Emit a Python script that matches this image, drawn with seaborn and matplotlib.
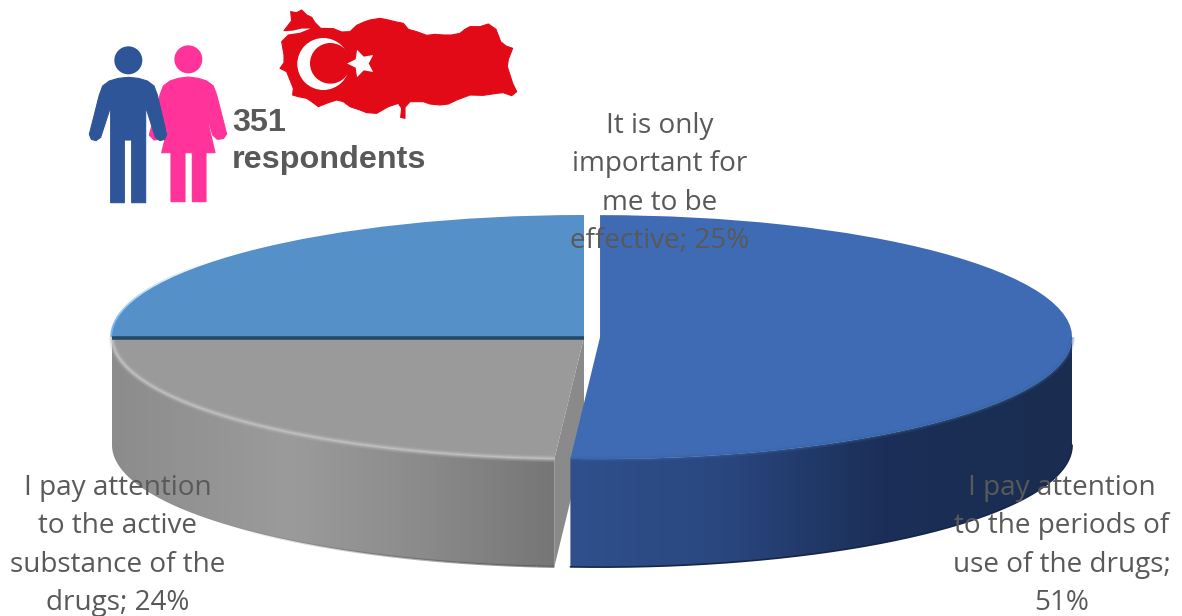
import numpy as np
import matplotlib
matplotlib.use("Agg")
import matplotlib.pyplot as plt
from matplotlib.colors import LinearSegmentedColormap
from matplotlib.patches import Circle, Polygon
import seaborn as sns

# Survey shares, listed anticlockwise from twelve o'clock
shares = [25, 24, 51]
answers = [
    "It is only\nimportant for\nme to be\neffective; 25%",
    "I pay attention\nto the active\nsubstance of the\ndrugs; 24%",
    "I pay attention\nto the periods of\nuse of the drugs;\n51%",
]
slice_colors = ["#5590C8", "#9A9A9A", "#3F6BB5"]
respondents = "351\nrespondents"

sns.set_theme(style="white")
plt.rcParams["font.family"] = ["Open Sans", "DejaVu Sans"]

W, H = 1182, 616
CX, CY, RX, RY = 584.0, 337.0, 472.0, 122.0
DEPTH = 108.0 / RY

fig = plt.figure(figsize=(W / 100, H / 100), dpi=100, facecolor="white")

# The pie lives in unit-circle coordinates on a stretched axes, which tilts the disc
pie_ax = fig.add_axes([0, 0, 1, 1])
wedges, _ = pie_ax.pie(
    shares, colors=slice_colors, startangle=90, explode=[0, 0, 0.034],
    radius=1, wedgeprops={"linewidth": 0, "zorder": 4},
)
pie_ax.set_aspect("auto")
xlim = ((0 - CX) / RX, (W - CX) / RX)
ylim = ((CY - H) / RY, CY / RY)


def rim(wedge, lo=None, hi=None):
    t1 = wedge.theta1 if lo is None else lo
    t2 = wedge.theta2 if hi is None else hi
    t = np.radians(np.linspace(t1, t2, 240))
    return wedge.center[0] + np.cos(t), wedge.center[1] + np.sin(t)


def side_wall(wedge, lo, hi, stops, zorder):
    x, y = rim(wedge, lo, hi)
    outline = np.r_[np.c_[x, y], np.c_[x[::-1], y[::-1] - DEPTH]]
    patch = Polygon(outline, closed=True, facecolor="none", edgecolor="none",
                    transform=pie_ax.transData, zorder=zorder)
    pie_ax.add_patch(patch)
    cmap = LinearSegmentedColormap.from_list("wall", stops)
    ramp = np.linspace(0, 1, 512)[None, :]
    img = pie_ax.imshow(ramp, cmap=cmap, aspect="auto", zorder=zorder,
                        extent=[x.min(), x.max(), y.min() - DEPTH, y.max()])
    img.set_clip_path(patch)


def fading_line(x, y, color, lw, zorder, start=0.0, stop=0.7, steps=24):
    """Stroke a path whose opacity ramps from start to stop along its length."""
    cuts = np.linspace(0, len(x) - 1, steps + 1).astype(int)
    for i, alpha in enumerate(np.linspace(start, stop, steps)):
        a, b = cuts[i], cuts[i + 1] + 1
        pie_ax.plot(x[a:b], y[a:b], color=color, lw=lw, alpha=alpha, zorder=zorder,
                    solid_capstyle="butt")


gray, blue_dark = wedges[1], wedges[2]

# Cut face of the grey slice, seen through the gap
end = np.radians(gray.theta2)
tip = (np.cos(end), np.sin(end))
pie_ax.add_patch(Polygon([(0, 0), (0, -DEPTH), (tip[0], tip[1] - DEPTH), tip],
                         closed=True, facecolor="#8A8A8A", edgecolor="none", zorder=1))

side_wall(gray, gray.theta1, gray.theta2,
          [(0, "#8C8C8C"), (0.4, "#9B9B9B"), (0.7, "#8B8B8B"), (1, "#767676")], 2)
side_wall(blue_dark, blue_dark.theta1, 360,
          [(0, "#2F508C"), (0.3, "#2A4780"), (0.62, "#1B2F58"), (1, "#1A2D50")], 3)

# Soft bevels along the rims
gx, gy = rim(gray)
for lw, alpha in [(5, 0.18), (3, 0.35), (1.5, 0.55)]:
    pie_ax.plot(gx, gy, color="#C4C4C4", lw=lw, alpha=alpha, zorder=5, solid_capstyle="butt")
fading_line(gx[110:], gy[110:] - DEPTH, "#555555", 1.6, 5)
bx, by = rim(blue_dark, blue_dark.theta1, 360)
for lw, alpha in [(4, 0.2), (2, 0.35)]:
    pie_ax.plot(bx, by, color="#35619F", lw=lw, alpha=alpha, zorder=5, solid_capstyle="butt")
pie_ax.plot(bx, by - DEPTH, color="#16264A", lw=1.2, zorder=5)
sx, sy = rim(wedges[0], 140, 180)
fading_line(sx, sy, "#4A96DE", 2.5, 5, 0.0, 0.75)
pie_ax.plot([-1, 0], [-0.012, -0.012], color="#25496B", lw=2.6, zorder=5, solid_capstyle="butt")

pie_ax.set_xlim(xlim)
pie_ax.set_ylim(ylim)
pie_ax.axis("off")

# Overlay in figure pixels for the icons and text
top = fig.add_axes([0, 0, 1, 1], facecolor="none")
top.set_xlim(0, W)
top.set_ylim(H, 0)
top.axis("off")


def from_crop(points):
    """Outlines below are drawn on a 3x grid anchored at (80, 0)."""
    p = np.asarray(points, dtype=float)
    return np.c_[80 + p[:, 0] / 3, p[:, 1] / 3]


def icon_circle(x, y, r, color, z):
    c = from_crop([(x, y)])[0]
    top.add_patch(Circle(c, r / 3, facecolor=color, edgecolor="none", zorder=z))


def icon_shape(points, color, z):
    top.add_patch(Polygon(from_crop(points), closed=True, facecolor=color, edgecolor=color,
                          lw=0.8, joinstyle="round", zorder=z))


# Woman
PINK = "#FF3399"
icon_circle(325, 178, 42, PINK, 6)
icon_shape([
    (245, 458), (285, 300), (262, 385), (240, 418), (222, 420), (208, 405), (240, 285), (250, 258),
    (270, 243), (295, 235), (325, 231), (355, 235), (380, 243), (400, 258), (410, 285), (440, 402),
    (430, 416), (412, 418), (398, 405), (368, 300), (405, 458), (378, 458), (378, 605), (337, 605),
    (337, 458), (315, 458), (315, 605), (273, 605), (273, 458)], PINK, 6)

# Man
NAVY = "#2E5597"
icon_circle(145, 181, 42, NAVY, 7)
icon_shape([
    (92, 608), (92, 320), (62, 412), (48, 422), (34, 418), (28, 403), (58, 285), (68, 258),
    (88, 243), (115, 235), (145, 232), (175, 235), (202, 243), (222, 258), (232, 285), (260, 403),
    (254, 418), (240, 422), (226, 412), (197, 320), (197, 608), (155, 608), (155, 420), (133, 420),
    (133, 608)], NAVY, 7)

# Map of Turkey carrying the crescent and star
RED = "#E30A17"
icon_shape([
    (632, 35), (650, 38), (665, 30), (680, 45), (695, 52), (705, 68), (722, 85), (760, 86), (785, 96),
    (810, 95), (830, 76), (852, 66), (870, 60), (900, 55), (925, 60), (945, 65), (970, 70), (985, 88),
    (1010, 95), (1040, 106), (1065, 103), (1090, 105), (1115, 105), (1140, 100), (1155, 88), (1170, 80),
    (1200, 80), (1225, 72), (1248, 88), (1262, 125), (1278, 138), (1298, 145), (1285, 178), (1282, 200),
    (1290, 225), (1298, 250), (1310, 275), (1295, 287), (1270, 278), (1250, 280), (1210, 286), (1170, 285),
    (1130, 300), (1105, 312), (1080, 315), (1050, 312), (1030, 305), (990, 305), (975, 322), (975, 355),
    (962, 352), (965, 325), (955, 310), (925, 320), (890, 340), (860, 338), (840, 330), (810, 320),
    (790, 305), (770, 300), (745, 308), (715, 320), (695, 305), (680, 295), (655, 290), (638, 285),
    (640, 265), (630, 240), (620, 215), (600, 205), (612, 188), (612, 165), (605, 125), (625, 105),
    (660, 100), (700, 84), (665, 84), (640, 90), (612, 92), (635, 62)], RED, 6)
icon_circle(730, 192, 78, "white", 7)
icon_circle(751, 190, 61, RED, 8)
star = from_crop([(843, 190)])[0]
top.scatter(*star, marker=(5, 1, 90), s=430, color="white", linewidths=0, zorder=9)

# Annotations
top.text(232, 141.5, respondents, fontsize=23.3, fontweight="bold", color="#595959",
         family=["Liberation Sans"], ha="left", va="center", linespacing=1.29, zorder=10)
label_centres = [(660, 183.5), (118, 545.5), (1062, 545.5)]
for text, (x, y) in zip(answers, label_centres):
    top.text(x, y, text, fontsize=20.1, color="#595959", ha="center", va="center",
             linespacing=1.49, zorder=10)

fig.savefig("out.png", dpi=100, facecolor="white")
